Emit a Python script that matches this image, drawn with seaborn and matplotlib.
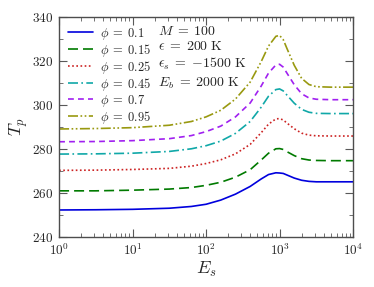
import matplotlib
matplotlib.use("Agg")
import matplotlib.pyplot as plt
import matplotlib.ticker as mticker
import seaborn as sns
import numpy as np

# log10(E_s) sample points
log_es = [0, 0.5, 1.0, 1.5, 1.8, 2.0, 2.2, 2.4, 2.6, 2.75, 2.85, 2.95, 3.0,
          3.05, 3.1, 3.2, 3.3, 3.4, 3.5, 3.7, 4.0]

tp_010 = [252.3, 252.4, 252.6, 253.1, 253.9, 254.9, 256.8, 259.5, 263.0, 266.4, 268.4,
          269.2, 269.1, 268.9, 268.2, 266.8, 265.8, 265.3, 265.1, 265.1, 265.1]
tp_015 = [261.0, 261.0, 261.3, 261.8, 262.5, 263.5, 264.9, 267.2, 270.6, 275.0, 278.1,
          280.1, 280.2, 279.8, 278.8, 277.0, 275.6, 275.0, 274.8, 274.7, 274.7]
tp_025 = [270.3, 270.4, 270.7, 271.2, 272.2, 273.4, 275.1, 277.8, 282.1, 287.4, 291.3,
          293.7, 293.8, 293.2, 291.8, 289.2, 287.2, 286.3, 286.0, 285.9, 285.9]
tp_045 = [277.7, 277.8, 278.1, 278.9, 280.1, 281.5, 283.6, 287.1, 292.5, 299.0, 304.0,
          307.0, 307.3, 306.4, 304.5, 300.8, 298.0, 296.7, 296.2, 296.1, 296.1]
tp_070 = [283.3, 283.4, 283.8, 284.7, 286.1, 287.9, 290.4, 294.6, 300.9, 308.6, 314.5,
          318.2, 318.5, 317.2, 314.5, 309.2, 305.1, 303.2, 302.6, 302.4, 302.4]
tp_095 = [289.1, 289.3, 289.7, 290.8, 292.5, 294.6, 297.6, 302.7, 310.4, 319.7, 326.8,
          331.2, 331.6, 329.7, 325.7, 318.0, 312.1, 309.3, 308.3, 308.1, 308.1]

phis = ["0.1", "0.15", "0.25", "0.45", "0.7", "0.95"]
series = [tp_010, tp_015, tp_025, tp_045, tp_070, tp_095]
colors = ["#0000dd", "#007a00", "#cc2222", "#10a8a8", "#a020f0", "#999910"]
styles = ["-", (0, (6, 3)), (0, (1, 1.5)), (0, (6, 2, 1, 2)), (0, (3.5, 2.5)),
          (0, (6, 1.5, 1, 1.5, 1, 1.5))]

sns.set_style("ticks")
plt.rcParams["font.family"] = "serif"
plt.rcParams["font.serif"] = ["cmr10"]
plt.rcParams["mathtext.fontset"] = "cm"
plt.rcParams["axes.formatter.use_mathtext"] = True

es = 10 ** np.array(log_es)

fig, ax = plt.subplots(figsize=(3.74, 2.87), dpi=100)
for phi, vals, c, ls in zip(phis, series, colors, styles):
    sns.lineplot(x=es, y=vals, ax=ax, color=c, linestyle=ls, linewidth=1.2,
                 label=r"$\phi\;=\;%s$" % phi)

ax.set_xscale("log")
ax.set_xlim(1, 1e4)
ax.set_ylim(240, 340)
ax.yaxis.set_major_locator(mticker.MultipleLocator(20))
ax.yaxis.set_minor_locator(mticker.MultipleLocator(10))
ax.xaxis.set_major_locator(mticker.LogLocator(base=10))
ax.xaxis.set_minor_locator(mticker.LogLocator(base=10, subs=np.arange(2, 10)))
ax.xaxis.set_minor_formatter(mticker.NullFormatter())

ax.tick_params(which="both", direction="in", top=True, right=True, labelsize=9.5,
               color="0.35")
ax.tick_params(which="major", length=6, pad=4)
ax.tick_params(which="minor", length=3)
for s in ax.spines.values():
    s.set_color("0.3")
    s.set_linewidth(1.0)

ax.set_xlabel(r"$E_s$", fontsize=13, labelpad=1)
ax.set_ylabel(r"$T_p$", fontsize=13, labelpad=2)

ax.legend(loc="upper left", frameon=False, fontsize=9, handlelength=2.0,
          labelspacing=0.0, borderaxespad=0.3, handletextpad=0.6)

ax.text(0.335, 0.965,
        "$M\\;=\\;100$\n$\\epsilon\\;=\\;200\\ \\mathrm{K}$\n"
        "$\\epsilon_s\\;=\\;{-}1500\\ \\mathrm{K}$\n$E_b\\;=\\;2000\\ \\mathrm{K}$",
        transform=ax.transAxes, va="top", ha="left", fontsize=10, linespacing=1.25)

fig.subplots_adjust(left=0.158, right=0.944, top=0.941, bottom=0.174)
fig.savefig("out.png", dpi=100)
